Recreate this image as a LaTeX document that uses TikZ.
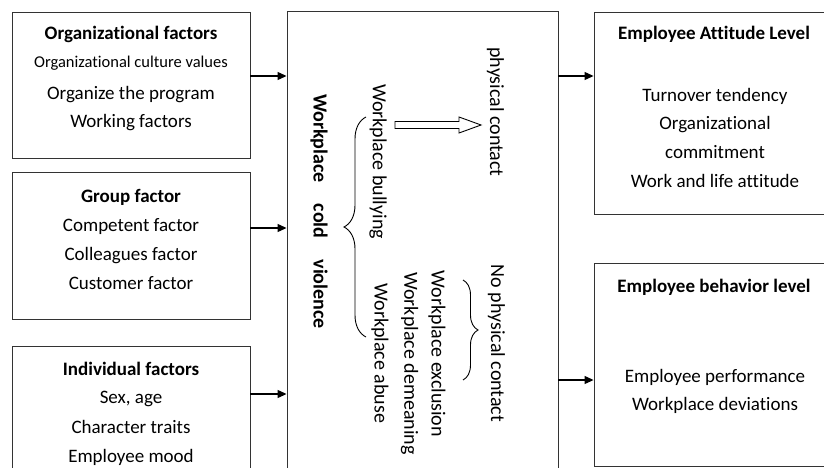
\documentclass[tikz,border=0pt]{standalone}
\usepackage{fontspec}
\setmainfont[RawFeature={-liga;-clig;-calt;-dlig}]{Carlito}
\usetikzlibrary{arrows.meta,decorations.pathreplacing}
% keep "t" and "i" as separate glyphs
\newcommand\tiSep{t\kern0pt i}

\begin{document}
\begin{tikzpicture}[x=1pt,y=-1pt,
  box/.style={draw=black!80,line width=0.9pt,inner sep=0pt},
  line/.style={font=\fontsize{19}{23}\selectfont,anchor=base,inner sep=0pt},
  head/.style={line,font=\fontsize{19}{23}\selectfont\bfseries},
  small/.style={line,font=\fontsize{16.5}{20}\selectfont},
  vtext/.style={font=\fontsize{20}{24}\selectfont,rotate=-90,inner sep=0pt},
  arr/.style={line width=1.2pt,-{Triangle[length=9pt,width=8pt]}},
  brace/.style={decorate,decoration={brace,amplitude=#1},line width=0.9pt}]

\useasboundingbox (0,0) rectangle (824,468);
\clip (0,0) rectangle (824,468);

% frames
\node[box,minimum width=238,minimum height=146] (org) at (131,85) {};
\node[box,minimum width=238,minimum height=147] (grp) at (131,245.5) {};
\node[box,minimum width=238,minimum height=154] (ind) at (131,423) {};
\node[box,minimum width=271,minimum height=489] (mid) at (422.5,255.5) {};
\node[box,minimum width=256,minimum height=202] (att) at (722,113) {};
\node[box,minimum width=256,minimum height=203] (beh) at (722,364.5) {};

% organizational factors
\node[head] (o0) at (131,40) {Organiza\tiSep onal factors};
\node[small] (o1) at (131,68) {Organiza\tiSep onal culture values};
\node[line] (o2) at (131,100) {Organize the program};
\node[line] (o3) at (131,128) {Working factors};

% group factor
\node[head] (g0) at (131,202) {Group factor};
\node[line] (g1) at (131,231) {Competent factor};
\node[line] (g2) at (131,260) {Colleagues factor};
\node[line] (g3) at (131,289) {Customer factor};

% individual factors
\node[head] (i0) at (131,375) {Individual factors};
\node[line] (i1) at (131,403) {Sex, age};
\node[line] (i2) at (131,433) {Character traits};
\node[line] (i3) at (131,462) {Employee mood};

% attitude level
\node[head] (a0) at (714,40) {Employee At\tiSep tude Level};
\node[line] (a1) at (715,102) {Turnover tendency};
\node[line] (a2) at (715,130) {Organiza\tiSep onal};
\node[line] (a3) at (715,158) {commitment};
\node[line] (a4) at (715,187) {Work and life at\tiSep tude};

% behavior level
\node[head] (b0) at (714,292) {Employee behavior level};
\node[line] (b1) at (715,382) {Employee performance};
\node[line] (b2) at (715,410) {Workplace devia\tiSep ons};

% central column
\node[vtext,font=\fontsize{20}{24}\selectfont\bfseries] (wcv) at (319,211.5)
  {Workplace\hspace{21pt}cold\hspace{21pt}violence};
\node[vtext] (bul) at (378,161.5) {Workplace bullying};
\node[vtext] (phy) at (495.5,112) {physical contact};
\node[vtext] (nph) at (496.5,343.5) {No physical contact};
\node[vtext] (exc) at (437,354) {Workplace exclusion};
\node[vtext] (dem) at (409.5,363.5) {Workplace demeaning};
\node[vtext] (abu) at (380,353.5) {Workplace abuse};

% braces
\coordinate (bt) at (366,117);
\coordinate (bb) at (366,337);
\draw[brace=22pt] (bb) -- (bt);
\coordinate (st) at (463,280);
\coordinate (sb) at (463,380);
\draw[brace=15pt] (st) -- (sb);

% hollow arrow towards physical contact
\draw[line width=0.9pt,fill=white] (395,121.5) -- (459,121.5) -- (459,117) -- (481,125)
  -- (459,133) -- (459,128.5) -- (395,128.5) -- cycle;

% connectors
\draw[arr] (org.east |- 0,76) -- (mid.west |- 0,76);
\draw[arr] (grp.east |- 0,228) -- (mid.west |- 0,228);
\draw[arr] (ind.east |- 0,394) -- (mid.west |- 0,394);
\draw[arr] (mid.east |- 0,76) -- (att.west |- 0,76);
\draw[arr] (mid.east |- 0,380) -- (beh.west |- 0,380);
\end{tikzpicture}
\end{document}
